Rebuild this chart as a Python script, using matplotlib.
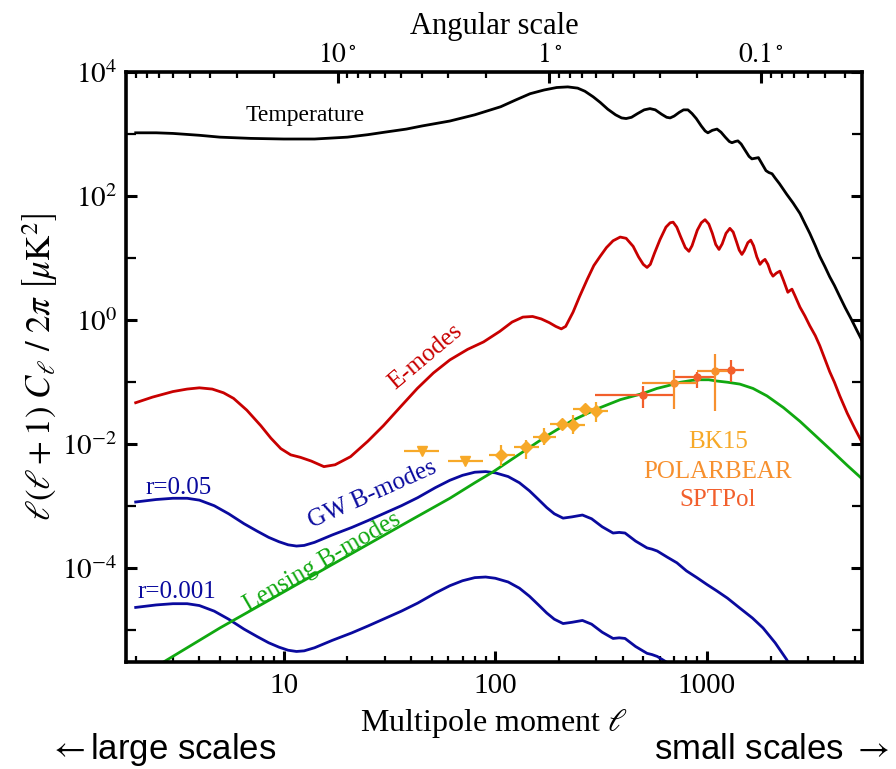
import numpy as np
import matplotlib.pyplot as plt
from matplotlib.ticker import FixedLocator, FuncFormatter, NullFormatter, LogLocator

plt.rcParams['font.family'] = ['Liberation Serif', 'DejaVu Serif']
plt.rcParams['mathtext.fontset'] = 'stix'

# --- spectra: multipole and log10 of D_ell [uK^2] ---
tt_ell = [2, 2.5, 3, 4, 5, 7, 10, 14, 20, 25, 30, 38, 45, 61, 80, 106, 125, 146, 170, 195,
          220, 245, 265, 290, 313, 340, 370, 395, 415, 440, 470, 505, 538, 570, 610, 645,
          670, 700, 740, 775, 813, 850, 890, 940, 980, 1010, 1060, 1115, 1165, 1220, 1275,
          1312, 1360, 1400, 1450, 1520, 1580, 1630, 1690, 1750, 1820, 1900, 1960, 2030,
          2100, 2200, 2380, 2550, 2750, 2900, 3060, 3250, 3410, 3600, 3800, 4000, 4240,
          4500, 4800, 5100, 5500]
tt_log = [3.02, 3.02, 3.01, 2.98, 2.95, 2.93, 2.92, 2.92, 2.95, 2.99, 3.03, 3.08, 3.13,
          3.21, 3.31, 3.44, 3.55, 3.65, 3.71, 3.75, 3.76, 3.74, 3.69, 3.60, 3.51, 3.40,
          3.31, 3.26, 3.25, 3.27, 3.33, 3.39, 3.41, 3.39, 3.32, 3.27, 3.26, 3.29, 3.35,
          3.39, 3.39, 3.33, 3.25, 3.13, 3.05, 3.02, 3.06, 3.08, 3.03, 2.95, 2.88, 2.86,
          2.88, 2.89, 2.84, 2.73, 2.64, 2.60, 2.61, 2.62, 2.52, 2.41, 2.38, 2.36, 2.29,
          2.20, 2.03, 1.89, 1.72, 1.56, 1.40, 1.20, 1.03, 0.87, 0.70, 0.56, 0.38, 0.20,
          0.02, -0.16, -0.38]

ee_ell = [2, 2.4, 3, 3.5, 4, 4.6, 5.2, 5.8, 6.7, 7.8, 8.7, 9.7, 10.8, 12, 13.5, 15.5, 17.5,
          20.7, 25, 29.6, 36, 42.8, 51, 61, 74, 88, 105, 120, 135, 150, 165, 180, 193, 205,
          215, 233, 250, 272, 292, 313, 335, 360, 389, 415, 448, 475, 500, 521, 540, 565,
          600, 640, 670, 692, 720, 750, 790, 822, 850, 900, 940, 979, 1020, 1060, 1100,
          1140, 1180, 1230, 1283, 1330, 1380, 1420, 1462, 1500, 1560, 1610, 1660, 1720,
          1780, 1830, 1880, 1940, 2000, 2050, 2130, 2210, 2300, 2410, 2470, 2520, 2600,
          2750, 2900, 3060, 3250, 3410, 3600, 3800, 4000, 4240, 4600, 5000, 5500]
ee_log = [-1.33, -1.24, -1.15, -1.11, -1.09, -1.11, -1.17, -1.26, -1.45, -1.70, -1.90,
          -2.07, -2.17, -2.21, -2.27, -2.36, -2.33, -2.20, -1.95, -1.70, -1.38, -1.10,
          -0.85, -0.64, -0.47, -0.35, -0.18, -0.03, 0.05, 0.06, 0.02, -0.04, -0.10, -0.14,
          -0.10, 0.13, 0.38, 0.66, 0.88, 1.03, 1.17, 1.28, 1.34, 1.32, 1.19, 1.02, 0.90,
          0.85, 0.90, 1.08, 1.30, 1.50, 1.57, 1.58, 1.50, 1.35, 1.17, 1.11, 1.20, 1.45,
          1.57, 1.62, 1.55, 1.40, 1.22, 1.14, 1.23, 1.40, 1.48, 1.42, 1.26, 1.13, 1.06,
          1.12, 1.25, 1.29, 1.20, 1.02, 0.90, 0.95, 0.98, 0.90, 0.77, 0.71, 0.76, 0.79,
          0.64, 0.45, 0.48, 0.50, 0.40, 0.21, 0.07, -0.09, -0.25, -0.41, -0.62, -0.83,
          -1.00, -1.22, -1.50, -1.75, -2.02]

# tensor B-modes for r = 0.05; the r = 0.001 curve scales linearly with r
gw_ell = [2, 2.5, 3, 3.5, 4, 4.7, 5.5, 6.5, 7.5, 8.5, 9.5, 10.5, 11.5, 12.5, 14, 17, 21,
          25, 30, 36, 43, 52, 61, 70, 80, 90, 100, 115, 130, 145, 160, 175, 190, 209, 230,
          258, 285, 320, 360, 385, 410, 460, 521, 550, 582, 650, 721, 800, 897, 1000, 1110,
          1250, 1430, 1640, 1840, 2100, 2380, 2700]
gw_log = [-2.93, -2.89, -2.87, -2.87, -2.90, -2.99, -3.12, -3.28, -3.40, -3.50, -3.57,
          -3.62, -3.64, -3.63, -3.58, -3.46, -3.34, -3.23, -3.11, -2.99, -2.86, -2.70,
          -2.58, -2.50, -2.45, -2.44, -2.46, -2.52, -2.62, -2.75, -2.89, -3.02, -3.12,
          -3.19, -3.17, -3.14, -3.20, -3.33, -3.43, -3.42, -3.43, -3.56, -3.67, -3.69,
          -3.72, -3.82, -3.91, -4.04, -4.15, -4.26, -4.36, -4.48, -4.64, -4.80, -4.96,
          -5.20, -5.47, -5.80]
r_values = [0.05, 0.001]

lens_ell = [2, 5, 10, 20, 40, 61, 80, 98, 130, 176, 230, 302, 390, 499, 580, 646, 750, 850,
            927, 1020, 1110, 1250, 1430, 1650, 1920, 2300, 2750, 3300, 3930, 4600, 5500]
lens_log = [-5.78, -4.96, -4.38, -3.80, -3.22, -2.87, -2.62, -2.44, -2.16, -1.86, -1.62,
            -1.43, -1.28, -1.18, -1.10, -1.06, -1.00, -0.97, -0.96, -0.96, -0.98, -1.00,
            -1.03, -1.10, -1.22, -1.41, -1.63, -1.88, -2.12, -2.34, -2.58]

# --- B-mode band powers [uK^2] ---
bk_ell = [106, 140, 170, 207, 233, 266, 299]
bk_lo_ell = [93, 123, 150, 182, 205, 234, 263]
bk_hi_ell = [124, 160, 194, 236, 266, 303, 341]
bk_val = [0.0066, 0.0089, 0.0133, 0.0214, 0.0208, 0.0376, 0.0347]
bk_lo = [0.0044, 0.0059, 0.0097, 0.0168, 0.0149, 0.0293, 0.0232]
bk_hi = [0.0096, 0.0118, 0.0180, 0.0260, 0.0293, 0.0452, 0.0487]

bk_lim_ell = [45, 72]
bk_lim_lo_ell = [37, 60]
bk_lim_hi_ell = [54, 87]
bk_lim_val = [0.0077, 0.0054]

pb_ell = [698, 1092]
pb_lo_ell = [494, 897]
pb_hi_ell = [897, 1300]
pb_val = [0.098, 0.153]
pb_lo = [0.037, 0.034]
pb_hi = [0.158, 0.29]

spt_ell = [499, 897, 1297]
spt_lo_ell = [296, 698, 1092]
spt_hi_ell = [692, 1092, 1495]
spt_val = [0.063, 0.123, 0.158]
spt_lo = [0.039, 0.081, 0.102]
spt_hi = [0.087, 0.148, 0.23]

c_black = 'black'
c_red = '#C80000'
c_blue = '#0A0A9E'
c_green = '#10A810'
c_bk = '#F7A928'
c_pb = '#F7902E'
c_spt = '#F25F2C'

W, H = 896, 769
fig = plt.figure(figsize=(W / 100, H / 100), dpi=100)
ax = fig.add_axes([126 / W, 1 - 662 / H, (862 - 126) / W, (662 - 72) / H])

lw = 2.0
ax.plot(tt_ell, 10 ** np.array(tt_log), color=c_black, lw=lw)
ax.plot(ee_ell, 10 ** np.array(ee_log), color=c_red, lw=lw)
for r in r_values:
    ax.plot(gw_ell, 10 ** np.array(gw_log) * r / r_values[0], color=c_blue, lw=lw)
ax.plot(lens_ell, 10 ** np.array(lens_log), color=c_green, lw=lw)


def band(ell, lo_ell, hi_ell, val, lo, hi, color, marker, ms):
    ell, val = np.array(ell), np.array(val)
    xerr = [ell - np.array(lo_ell), np.array(hi_ell) - ell]
    yerr = None
    if lo is not None:
        yerr = [val - np.array(lo), np.array(hi) - val]
    ax.errorbar(ell, val, xerr=xerr, yerr=yerr, fmt=marker, color=color, ms=ms,
                elinewidth=1.6, capsize=0, mec=color, mfc=color)


band(spt_ell, spt_lo_ell, spt_hi_ell, spt_val, spt_lo, spt_hi, c_spt, 'o', 5)
band(pb_ell, pb_lo_ell, pb_hi_ell, pb_val, pb_lo, pb_hi, c_pb, 'o', 5)
band(bk_ell, bk_lo_ell, bk_hi_ell, bk_val, bk_lo, bk_hi, c_bk, 'D', 6)
band(bk_lim_ell, bk_lim_lo_ell, bk_lim_hi_ell, bk_lim_val, None, None, c_bk, 'v', 7)

ax.set_xscale('log')
ax.set_yscale('log')
ax.set_xlim(1.8, 5400)
ax.set_ylim(3.1e-6, 1e4)

for s in ax.spines.values():
    s.set_linewidth(2.6)

ax.xaxis.set_major_locator(FixedLocator([10, 100, 1000]))
ax.xaxis.set_major_formatter(FuncFormatter(lambda v, p: '%d' % v))
ax.xaxis.set_minor_locator(LogLocator(base=10, subs=np.arange(2, 10), numticks=20))
ax.xaxis.set_minor_formatter(NullFormatter())
ax.yaxis.set_major_locator(FixedLocator([1e-4, 1e-2, 1e0, 1e2, 1e4]))
ax.yaxis.set_major_formatter(FuncFormatter(lambda v, p: r'$10^{%d}$' % round(np.log10(v))))
ax.yaxis.set_minor_locator(FixedLocator([1e-5, 1e-3, 1e-1, 1e1, 1e3]))
ax.yaxis.set_minor_formatter(NullFormatter())
ax.tick_params(which='both', direction='in', right=True, top=False, labelsize=21, width=1.6)
ax.tick_params(which='major', length=8, width=2.2)
ax.tick_params(which='minor', length=4)
ax.tick_params(axis='y', which='minor', length=7, width=1.6)
ax.tick_params(axis='x', pad=8)
ax.tick_params(axis='y', pad=6)


def ell_to_deg(x):
    x = np.asarray(x, float)
    with np.errstate(divide='ignore'):
        return 180.0 / x


# angular scale along the top, theta ~ 180 deg / ell
top = ax.secondary_xaxis('top', functions=(ell_to_deg, ell_to_deg))
top.xaxis.set_major_locator(FixedLocator([10, 1, 0.1]))
top.xaxis.set_major_formatter(FuncFormatter(
    lambda v, p: {10: r'$10^\circ$', 1: r'$1^\circ$', 0.1: r'$0.1^\circ$'}.get(round(v, 1), '')))
top.xaxis.set_minor_locator(LogLocator(base=10, subs=np.arange(2, 10), numticks=20))
top.xaxis.set_minor_formatter(NullFormatter())
top.tick_params(which='both', direction='in', labelsize=20, pad=3)
top.tick_params(which='major', length=8, width=2.2)
top.tick_params(which='minor', length=4, width=1.6)
top.set_xlabel('Angular scale', fontsize=22, labelpad=6)

ax.set_xlabel(r'Multipole moment $\ell$', fontsize=23, labelpad=6)
ax.set_ylabel(r'$\ell(\ell + 1)\ C_\ell\ /\ 2\pi\ \left[\mu\mathrm{K}^2\right]$',
              fontsize=25, labelpad=2)


def px(x, y):
    return x / W, 1 - y / H


fs = 18
fig.text(*px(305, 116), 'Temperature', fontsize=17, ha='center', va='center')
fig.text(*px(425, 357), 'E-modes', fontsize=fs, color=c_red, ha='center', va='center',
         rotation=40)
fig.text(*px(372, 495), 'GW B-modes', fontsize=fs, color=c_blue, ha='center', va='center',
         rotation=24)
fig.text(*px(322, 562), 'Lensing B-modes', fontsize=fs, color=c_green, ha='center',
         va='center', rotation=30)
fig.text(*px(179, 488), 'r=0.05', fontsize=fs, color=c_blue, ha='center', va='center')
fig.text(*px(177, 592), 'r=0.001', fontsize=fs, color=c_blue, ha='center', va='center')
fig.text(*px(718, 442), 'BK15', fontsize=fs, color=c_bk, ha='center', va='center')
fig.text(*px(718, 472), 'POLARBEAR', fontsize=fs, color=c_pb, ha='center', va='center')
fig.text(*px(718, 500), 'SPTPol', fontsize=fs, color=c_spt, ha='center', va='center')

sans = ['Liberation Sans', 'DejaVu Sans']
fig.text(*px(48, 759), r'$\leftarrow$large scales', fontsize=25, family=sans, ha='left',
         va='baseline')
fig.text(*px(890, 759), r'small scales $\rightarrow$', fontsize=25, family=sans, ha='right',
         va='baseline')

fig.savefig('out.png', dpi=100)
